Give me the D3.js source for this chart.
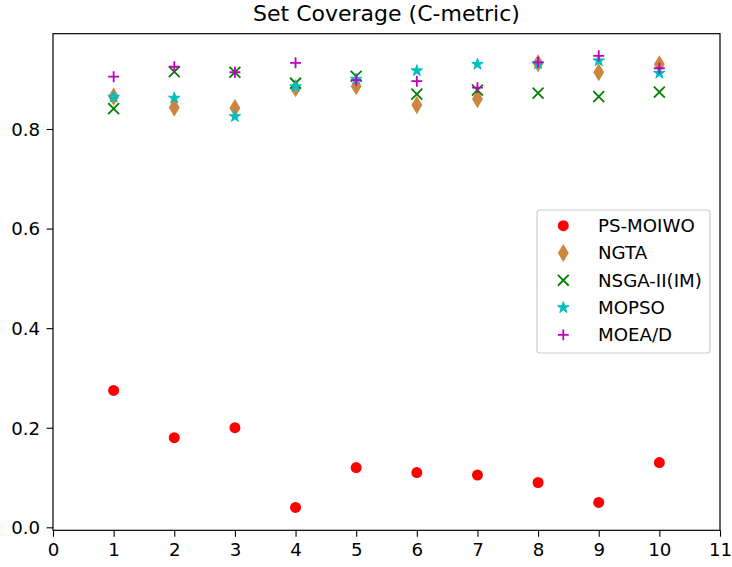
<!DOCTYPE html>
<html>
<head>
<meta charset="utf-8">
<script src="https://cdn.jsdelivr.net/npm/d3@7"></script>
<style>
  body { margin: 0; background: #fff; }
  text { font-family: "DejaVu Sans", sans-serif; }
</style>
</head>
<body>
<script>
// scatter of set coverage for five algorithms

(function(){

//data
var runs = [1, 2, 3, 4, 5, 6, 7, 8, 9, 10];
var psMoiwo = [0.275, 0.18, 0.2, 0.04, 0.12, 0.11, 0.105, 0.09, 0.05, 0.13];
var ngta = [0.865, 0.843, 0.842, 0.882, 0.886, 0.848, 0.86, 0.932, 0.914, 0.93];
var nsga = [0.841, 0.915, 0.914, 0.892, 0.906, 0.87, 0.878, 0.872, 0.865, 0.874];
var mopso = [0.864, 0.862, 0.825, 0.885, 0.9, 0.917, 0.93, 0.931, 0.937, 0.912];
var moead = [0.905, 0.925, 0.914, 0.933, 0.898, 0.896, 0.883, 0.934, 0.947, 0.922];
var seriesNames = ["PS-MOIWO", "NGTA", "NSGA-II(IM)", "MOPSO", "MOEA/D"];
var xTicks = [0, 1, 2, 3, 4, 5, 6, 7, 8, 9, 10, 11];
var yTicks = [0.0, 0.2, 0.4, 0.6, 0.8];

var width = 732,
    height = 567,
    left = 53, right = 720, top = 33.7, bottom = 530.3;

var svg = d3.select("body")
    .append("svg")
    .attr("width", width)
    .attr("height", height);

var x = d3.scaleLinear().domain([0, 11]).range([left, right]);
var y = d3.scaleLinear().domain([-0.006, 0.9914]).range([bottom, top]);

//marker shapes (size ~ 6pt at this resolution)
var ms = 10.9;
function circlePath(){
    return d3.symbol().type(d3.symbolCircle).size(Math.PI * 5.5 * 5.5)();
}
function thinDiamond(){
    var h = ms * 0.707, w = h * 0.6;
    return "M0," + (-h) + "L" + w + ",0L0," + h + "L" + (-w) + ",0Z";
}
function xPath(){
    var s = ms / 2;
    return "M" + (-s) + "," + (-s) + "L" + s + "," + s + "M" + (-s) + "," + s + "L" + s + "," + (-s);
}
function plusPath(){
    var s = ms / 2;
    return "M" + (-s) + ",0L" + s + ",0M0," + (-s) + "L0," + s;
}
function starPath(){
    var ro = ms / 2 + 0.6, ri = ro * 0.381966, pts = [];
    for (var i = 0; i < 10; i++){
        var r = i % 2 === 0 ? ro : ri;
        var a = Math.PI * i / 5;
        pts.push([r * Math.sin(a), -r * Math.cos(a)]);
    }
    return "M" + pts.join("L") + "Z";
}

var series = [
    {name: seriesNames[0], values: psMoiwo, color: "#ff0000", path: circlePath(), fill: true, sw: 0},
    {name: seriesNames[1], values: ngta, color: "#cd853f", path: thinDiamond(), fill: true, sw: 1.4},
    {name: seriesNames[2], values: nsga, color: "#008000", path: xPath(), fill: false, sw: 1.8},
    {name: seriesNames[3], values: mopso, color: "#00bfbf", path: starPath(), fill: true, sw: 1},
    {name: seriesNames[4], values: moead, color: "#bf00bf", path: plusPath(), fill: false, sw: 1.8}
];

function drawMarker(g, s){
    g.append("path")
        .attr("d", s.path)
        .attr("fill", s.fill ? s.color : "none")
        .attr("stroke", s.sw > 0 ? s.color : "none")
        .attr("stroke-width", s.sw)
        .attr("stroke-linejoin", "miter");
}

//points
series.forEach(function(s){
    var g = svg.append("g").attr("class", "series");
    g.selectAll("g")
        .data(runs)
        .enter()
        .append("g")
        .attr("transform", function(d, i){ return "translate(" + x(d) + "," + y(s.values[i]) + ")"; })
        .each(function(){ drawMarker(d3.select(this), s); });
});

//axes
var xAxis = svg.append("g")
    .attr("transform", "translate(0," + bottom + ")")
    .call(d3.axisBottom(x).tickValues(xTicks).tickFormat(d3.format("d")).tickSizeOuter(0).tickSize(6.4).tickPadding(6));
var yAxis = svg.append("g")
    .attr("transform", "translate(" + left + ",0)")
    .call(d3.axisLeft(y).tickValues(yTicks).tickFormat(d3.format(".1f")).tickSizeOuter(0).tickSize(6.4).tickPadding(6.5));
[xAxis, yAxis].forEach(function(a){
    a.select(".domain").remove();
    a.selectAll("line").attr("stroke", "#000").attr("stroke-width", 1.1);
    a.selectAll("text").attr("font-size", "18.2px").attr("fill", "#000");
});
yAxis.selectAll("text").attr("dy", "0.35em");

//frame
svg.append("rect")
    .attr("x", left)
    .attr("y", top)
    .attr("width", right - left)
    .attr("height", bottom - top)
    .attr("fill", "none")
    .attr("stroke", "#000")
    .attr("stroke-width", 1.2);

//title
svg.append("text")
    .attr("x", (left + right) / 2)
    .attr("y", 20.5)
    .attr("text-anchor", "middle")
    .attr("font-size", "22px")
    .text("Set Coverage (C-metric)");

//legend
var legend = svg.append("g");
legend.append("rect")
    .attr("x", 537)
    .attr("y", 210)
    .attr("width", 173)
    .attr("height", 143)
    .attr("rx", 3)
    .attr("fill", "#fff")
    .attr("fill-opacity", 0.8)
    .attr("stroke", "#cccccc")
    .attr("stroke-width", 1.2);
series.forEach(function(s, i){
    var cy = 225.7 + i * 27.3;
    var g = legend.append("g").attr("transform", "translate(563.3," + cy + ")");
    drawMarker(g, s);
    legend.append("text")
        .attr("x", 598)
        .attr("y", cy)
        .attr("dy", "0.35em")
        .attr("font-size", "18.2px")
        .text(s.name);
});

})();
</script>
</body>
</html>
